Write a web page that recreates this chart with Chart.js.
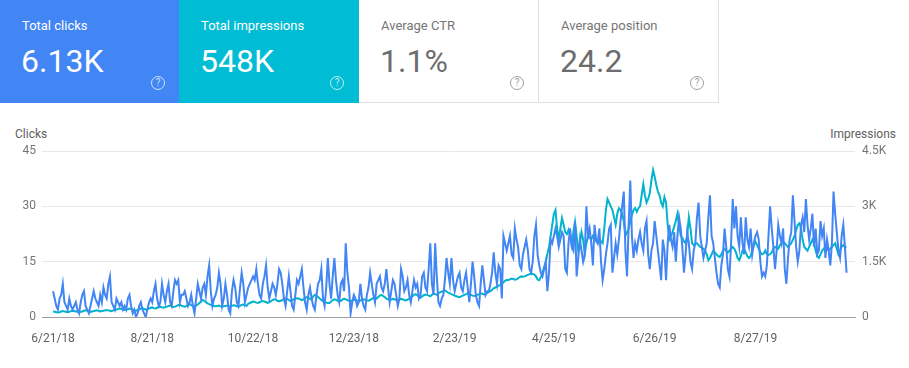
<!DOCTYPE html>
<html>
<head>
<meta charset="utf-8">
<script src="https://cdn.jsdelivr.net/npm/chart.js@4.4.1/dist/chart.umd.min.js"></script>
<style>
  body { margin: 0; background: #fff; font-family: Roboto, "Noto Sans", sans-serif; width: 909px; height: 368px; overflow: hidden; position: relative; }
  .card { position: absolute; top: 0; height: 103px; width: 180px; box-sizing: border-box; }
  .card .title { position: absolute; left: 22px; top: 18px; font-size: 13px; line-height: 16px; }
  .card .value { position: absolute; left: 21px; top: 43px; font-size: 32px; line-height: 36px; }
  .card .help { position: absolute; left: 151px; top: 76px; width: 14px; height: 14px; border: 1.3px solid; border-radius: 50%;
                box-sizing: border-box; font-size: 10px; line-height: 12px; text-align: center; }
  .c1 { left: 0; background: #4285f4; color: #fff; }
  .c2 { left: 179px; background: #00bcd4; color: #fff; }
  .c3 { left: 359px; border-bottom: 1px solid #e0e0e0; border-right: 1px solid #e0e0e0; }
  .c4 { left: 539px; border-bottom: 1px solid #e0e0e0; border-right: 1px solid #e0e0e0; }
  .c1 .help, .c2 .help { color: rgba(255,255,255,0.75); border-color: rgba(255,255,255,0.75); }
  .c3 .title, .c4 .title { color: #757575; }
  .c3 .value, .c4 .value { color: #6d6d6d; }
  .c3 .help, .c4 .help { color: #9e9e9e; border-color: #9e9e9e; }
  .axis-title { position: absolute; top: 127px; font-size: 12px; line-height: 14px; color: #616161; }
  #wrap { position: absolute; left: 0; top: 119px; }
</style>
</head>
<body>
<div class="card c1"><div class="title">Total clicks</div><div class="value">6.13K</div><div class="help">?</div></div>
<div class="card c2"><div class="title">Total impressions</div><div class="value">548K</div><div class="help">?</div></div>
<div class="card c3"><div class="title">Average CTR</div><div class="value">1.1%</div><div class="help">?</div></div>
<div class="card c4"><div class="title">Average position</div><div class="value">24.2</div><div class="help">?</div></div>
<div class="axis-title" style="left:15px">Clicks</div>
<div class="axis-title" style="right:13px">Impressions</div>
<div id="wrap"><canvas id="chart" width="909" height="249"></canvas></div>
<script>
// daily values, first day 6/21/18
const clicks = [
  7, 5, 3, 2, 5, 6, 9, 4, 3, 2,
  5, 3, 2, 3, 4, 2, 1, 4, 6, 7,
  3, 2, 1, 3, 5, 7, 5, 4, 3, 6,
  4, 8, 6, 5, 9, 11, 4, 3, 2, 5,
  4, 3, 4, 2, 3, 2, 5, 6, 3, 1,
  2, 0, 1, 3, 4, 2, 1, 0, 2, 4,
  5, 4, 7, 9, 5, 3, 4, 9, 6, 4,
  7, 9, 4, 3, 7, 10, 9, 10, 4, 6,
  6, 7, 5, 3, 4, 6, 3, 1, 5, 9,
  7, 5, 8, 9, 6, 11, 14, 7, 3, 5,
  6, 8, 12, 9, 3, 5, 9, 6, 2, 1,
  7, 10, 8, 4, 3, 8, 12, 9, 4, 6,
  8, 9, 10, 11, 10, 13, 9, 6, 5, 9,
  11, 14, 8, 5, 7, 9, 8, 6, 9, 13,
  12, 9, 5, 3, 7, 11, 7, 3, 2, 6,
  10, 9, 11, 13, 8, 4, 2, 6, 8, 5,
  3, 2, 6, 9, 10, 13, 5, 3, 8, 16,
  9, 5, 11, 16, 10, 6, 4, 9, 10, 7,
  20, 12, 8, 1, 4, 6, 5, 3, 4, 9,
  5, 3, 2, 6, 8, 12, 9, 6, 4, 9,
  10, 11, 8, 7, 9, 13, 8, 4, 7, 10,
  9, 6, 3, 5, 13, 11, 7, 8, 10, 6,
  4, 7, 10, 8, 9, 5, 6, 11, 12, 8,
  7, 13, 20, 9, 6, 20, 11, 4, 3, 5,
  6, 10, 16, 12, 9, 16, 10, 7, 9, 11,
  12, 8, 7, 10, 12, 8, 4, 9, 15, 11,
  6, 4, 3, 9, 14, 10, 6, 7, 7, 9,
  12, 17.5, 12, 9, 14, 13, 5, 22, 20, 18,
  20, 22, 17, 16, 24, 21, 19, 14, 13, 17,
  19, 21, 18, 13, 12, 15, 22, 25, 17, 14,
  12, 11, 13, 15, 7, 12, 21, 20, 22, 24,
  22, 19, 21, 23, 22, 13, 12, 20, 24, 19,
  18, 26, 11, 16, 21, 18, 15, 17, 30, 22,
  24, 20, 14, 25, 21, 20, 24, 15, 10, 13,
  17, 20, 24, 25, 12, 16, 20, 17, 21, 26,
  30, 34, 18, 11, 25, 37, 22, 16, 20, 18,
  21, 23, 20, 18, 24, 26, 17, 13, 18, 20,
  26, 22, 18, 14, 10, 21, 18, 10, 20, 25,
  21, 19, 23, 15, 22, 27, 24, 19, 12, 17,
  23, 20, 15, 13, 18, 20, 27, 31, 22, 19,
  16, 18, 20, 27, 33, 22, 20, 16, 12, 9,
  8, 14, 17, 24, 19, 13, 11, 20, 32, 24,
  30, 22, 19, 27, 20, 17, 27, 21, 19, 24,
  17, 20, 22, 23, 21, 15, 11, 12, 11, 14,
  22, 30, 24, 19, 13, 18, 25, 22, 20, 24,
  13, 9, 16, 21, 23, 33, 26, 19, 15, 18,
  25, 27, 23, 32, 25, 21, 24, 28, 19, 24,
  17, 18, 26, 22, 24, 16, 21, 18, 14, 20,
  34, 28, 23, 18, 16, 22, 25, 19, 12
];
const impressions = [
  150, 140, 130, 120, 130, 150, 160, 150, 140, 130,
  140, 160, 170, 160, 150, 140, 130, 140, 150, 170,
  180, 170, 160, 140, 150, 160, 170, 180, 170, 150,
  160, 170, 180, 190, 180, 170, 160, 180, 190, 200,
  220, 230, 220, 200, 190, 200, 210, 230, 220, 200,
  180, 170, 190, 210, 230, 240, 220, 200, 210, 230,
  250, 260, 240, 230, 250, 270, 280, 260, 250, 270,
  280, 300, 310, 290, 270, 280, 300, 320, 330, 310,
  290, 280, 300, 330, 350, 320, 300, 290, 310, 340,
  380, 420, 460, 440, 400, 370, 350, 330, 310, 300,
  290, 300, 310, 290, 280, 290, 300, 310, 290, 280,
  300, 320, 310, 290, 280, 300, 330, 340, 320, 300,
  360, 380, 400, 420, 410, 390, 380, 400, 420, 430,
  420, 400, 380, 400, 430, 460, 480, 470, 440, 420,
  440, 460, 480, 500, 490, 460, 430, 450, 480, 500,
  510, 500, 480, 460, 480, 520, 540, 520, 490, 470,
  560, 600, 580, 540, 500, 460, 430, 400, 390, 380,
  380, 420, 460, 480, 470, 440, 420, 440, 470, 500,
  480, 460, 440, 420, 450, 470, 460, 440, 430, 450,
  460, 480, 470, 450, 440, 460, 490, 510, 520, 500,
  540, 580, 600, 570, 540, 500, 480, 460, 470, 490,
  480, 460, 450, 470, 490, 480, 460, 450, 470, 500,
  530, 560, 600, 620, 590, 550, 520, 560, 590, 610,
  600, 580, 560, 600, 630, 620, 600, 640, 670, 690,
  700, 720, 690, 660, 640, 620, 600, 580, 560, 550,
  540, 560, 580, 600, 620, 640, 620, 600, 580, 570,
  580, 600, 620, 640, 630, 610, 620, 650, 680, 700,
  740, 780, 800, 820, 850, 870, 900, 940, 980, 1000,
  1000, 1020, 1040, 1030, 1010, 1020, 1050, 1080, 1100, 1090,
  1100, 1120, 1140, 1160, 1180, 1170, 1150, 1100, 1020, 1000,
  1080, 1200, 1350, 1500, 1700, 1900, 2180, 2500, 2800, 2900,
  2400, 2100, 2400, 2680, 2500, 2300, 2250, 2360, 2200, 1950,
  2300, 2580, 2200, 1800, 2000, 2300, 2100, 1700, 2000, 2200,
  2150, 2100, 2200, 2150, 2050, 2000, 2100, 2050, 2000, 2400,
  2900, 3200, 3100, 3000, 2900, 2700, 2500, 2800, 2950, 2900,
  2800, 2600, 2200, 2300, 2400, 2600, 2760, 2900, 2950, 2850,
  2950, 3000, 3300, 3600, 3300, 3100, 3200, 3360, 3700, 3980,
  3800, 3580, 3400, 3300, 3100, 3000, 3250, 3100, 2500, 2100,
  2200, 2300, 2450, 2600, 2800, 2500, 2200, 2150, 2050, 2000,
  2200, 2700, 2400, 2000, 1950, 1980, 2000, 1950, 1900, 1880,
  1850, 1800, 1700, 1540, 1600, 1700, 1800, 1750, 1700, 1650,
  1630, 1700, 1800, 1850, 1800, 1750, 1800, 1850, 1900, 1850,
  1750, 1600, 1540, 1650, 1800, 1850, 1750, 1650, 1600, 1650,
  1800, 1950, 2040, 1950, 1850, 1750, 1700, 1720, 1800, 1700,
  1680, 1700, 1750, 1850, 1900, 1880, 1850, 1950, 2000, 2040,
  2000, 1950, 1900, 1950, 2000, 2100, 2200, 2350, 2500, 2540,
  2400, 2100, 1900, 1850, 1800, 1900, 2000, 2100, 2000, 1800,
  1650, 1600, 1700, 1800, 1850, 1900, 1850, 1800, 1850, 1900,
  1950, 2000, 1850, 1700, 1800, 1900, 1950, 1900, 1900
];
const tickLabels = ['6/21/18', '8/21/18', '10/22/18', '12/23/18', '2/23/19', '4/25/19', '6/26/19', '8/27/19'];
const clickTicks = [0, 15, 30, 45];
const impressionTicks = [0, 1500, 3000, 4500];
const impressionTickLabels = ['0', '1.5K', '3K', '4.5K'];

// one date label per day
const start = Date.UTC(2018, 5, 21);
const dates = clicks.map((_, i) => {
  const d = new Date(start + i * 86400000);
  return (d.getUTCMonth() + 1) + '/' + d.getUTCDate() + '/' + String(d.getUTCFullYear()).slice(2);
});
const tickIdx = tickLabels.map(l => dates.indexOf(l));

const tickFont = { family: 'Roboto', size: 12 };

new Chart(document.getElementById('chart'), {
  type: 'line',
  data: {
    datasets: [{
      label: 'Clicks',
      data: clicks.map((v, i) => ({ x: i, y: v })),
      yAxisID: 'y',
      borderColor: '#4285f4',
      borderWidth: 2,
      pointRadius: 0,
      tension: 0
    }, {
      label: 'Impressions',
      data: impressions.map((v, i) => ({ x: i, y: v })),
      yAxisID: 'y1',
      borderColor: '#00b4cc',
      borderWidth: 2,
      pointRadius: 0,
      tension: 0
    }]
  },
  options: {
    responsive: false,
    animation: false,
    layout: { padding: { top: 32, left: 0, right: 0, bottom: 0 } },
    plugins: { legend: { display: false }, tooltip: { enabled: false } },
    scales: {
      x: {
        type: 'linear',
        min: -6.8,
        max: 493.2,
        afterBuildTicks: s => { s.ticks = tickIdx.map(v => ({ value: v })); },
        afterFit: s => { s.height = 51; },
        ticks: { callback: v => dates[v], autoSkip: false, maxRotation: 0, padding: 15, color: '#616161', font: tickFont },
        grid: { display: false, drawTicks: false },
        border: { display: true, color: '#9e9e9e', width: 1 }
      },
      y: {
        position: 'left',
        min: 0,
        max: 45,
        afterBuildTicks: s => { s.ticks = clickTicks.map(v => ({ value: v })); },
        afterFit: s => { s.width = 42; },
        ticks: { padding: 6, color: '#757575', font: tickFont },
        grid: { drawTicks: false, color: c => c.tick.value === 0 ? 'rgba(0,0,0,0)' : '#e8e8e8' },
        border: { display: false }
      },
      y1: {
        position: 'right',
        min: 0,
        max: 4500,
        afterBuildTicks: s => { s.ticks = impressionTicks.map(v => ({ value: v })); },
        afterFit: s => { s.width = 54; },
        ticks: { padding: 7, color: '#757575', font: tickFont, callback: v => impressionTickLabels[impressionTicks.indexOf(v)] },
        grid: { display: false, drawTicks: false },
        border: { display: false }
      }
    }
  }
});
</script>
</body>
</html>
